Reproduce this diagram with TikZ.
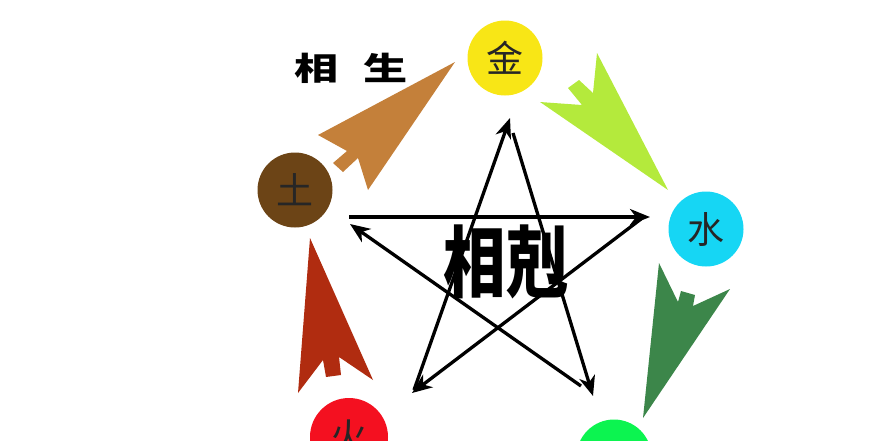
\documentclass[tikz,border=0pt]{standalone}
\usepackage{xcolor}
\usepackage{tikz}
\usepackage{fontspec}
\newfontfamily\cjk{Noto Sans CJK SC}
\definecolor{jinyellow}{RGB}{248, 230, 22}
\definecolor{tubrown}{RGB}{108, 68, 22}
\definecolor{shuicyan}{RGB}{22, 214, 244}
\definecolor{huored}{RGB}{244, 16, 32}
\definecolor{mugreen}{RGB}{12, 244, 80}
\definecolor{shengbrown}{RGB}{196, 128, 58}
\definecolor{shenglime}{RGB}{180, 234, 60}
\definecolor{shengdark}{RGB}{60, 134, 74}
\definecolor{shengred}{RGB}{176, 44, 16}
\usetikzlibrary{arrows.meta}

\begin{document}
\begin{tikzpicture}[x=1pt, y=-1pt,
    elem/.style={circle, minimum size=75pt, inner sep=0pt, text=black!85, font=\cjk\fontsize{37}{37}\selectfont},
    keline/.style={-{Stealth[length=20pt, width=16pt, inset=6pt]}, line width=3.3pt, black}]
    \useasboundingbox (0,0) rectangle (877,440);
    \clip (0,0) rectangle (877,440);
    % sheng arrows
    \fill[shengbrown] (455,62) -- (318,135) -- (347,151) -- (333,163) -- (343,172) -- (358,158) -- (368,190) -- cycle;
    \fill[shenglime] (668,190) -- (597,53) -- (593,93) -- (579,80) -- (568,88) -- (582,105) -- (540,102) -- cycle;
    \fill[shengdark] (643,418) -- (659,263) -- (678,302) -- (681,291) -- (695,295) -- (693,306) -- (730,289) -- cycle;
    \fill[shengred] (310,238) -- (298,393) -- (323,360) -- (326,377) -- (341,375) -- (339,357) -- (373,380) -- cycle;
    % elements
    \node[elem, fill=jinyellow] (jin) at (505,58) {金};
    \node[elem, fill=tubrown] (tu) at (295,190) {土};
    \node[elem, fill=shuicyan] (shui) at (706,229) {水};
    \node[elem, fill=huored, minimum size=78pt] (huo) at (349,437) {火};
    \node[elem, fill=mugreen] (mu) at (614,457) {};
    % ke star
    \coordinate (tuK) at (349,217);
    \coordinate (shuiK) at (650,217);
    \coordinate (shuiK2) at (641,219);
    \coordinate (huoK) at (412,393);
    \coordinate (huoK2) at (414,390);
    \coordinate (jinK) at (510,118);
    \coordinate (jinK2) at (513,133);
    \coordinate (muK) at (593,396);
    \coordinate (muK2) at (581,386);
    \coordinate (tuK2) at (350,224);
    \draw[keline] (tuK) -- (shuiK);
    \draw[keline] (shuiK2) -- (huoK);
    \draw[keline] (huoK2) -- (jinK);
    \draw[keline] (jinK2) -- (muK);
    \draw[keline] (muK2) -- (tuK2);
    % labels
    \node[font=\cjk\bfseries\fontsize{32}{32}\selectfont, xscale=1.38] (sheng) at (351,68) {相\hspace{18pt}生};
    \node[font=\cjk\bfseries\fontsize{78}{78}\selectfont, xscale=0.8] (ke) at (506,262) {相剋};
\end{tikzpicture}
\end{document}
